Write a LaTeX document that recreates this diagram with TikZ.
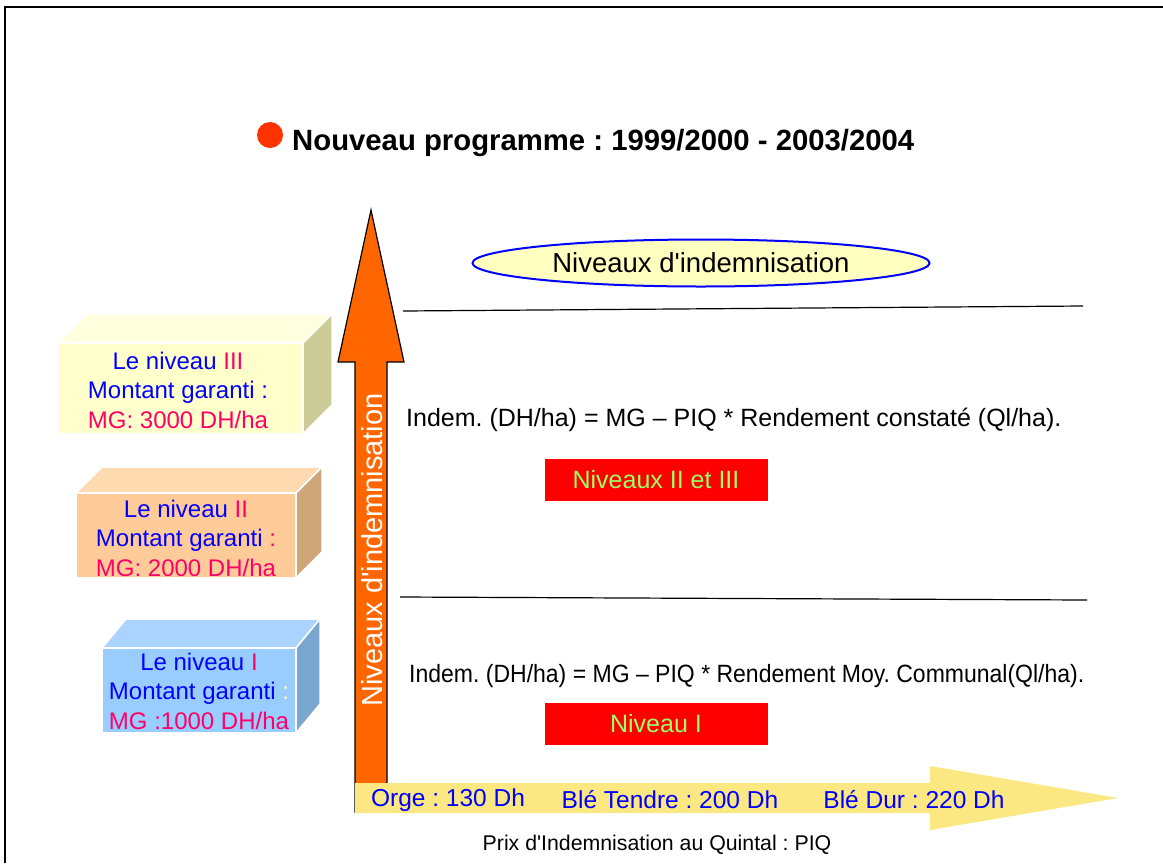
\documentclass[tikz,border=0pt]{standalone}
\usepackage{fontspec}
\setmainfont{Liberation Sans}
\newfontfamily\etroit{Liberation Sans}[FakeStretch=0.92]
\usepackage{xcolor}
\usetikzlibrary{shapes.geometric}
\definecolor{bleu}{HTML}{0000FF}
\definecolor{rose}{HTML}{FF0066}
\definecolor{vert}{HTML}{99FF66}
\definecolor{orangef}{HTML}{FF6600}
\definecolor{jaune}{HTML}{FBE883}
\definecolor{creme}{HTML}{FFFFC0}
\tikzset{niv/.style={align=center,text=bleu,inner sep=0pt,font=\fontsize{24}{29.5}\selectfont},
  rouge/.style={fill=red,minimum width=223pt,minimum height=42pt,inner sep=0pt,text=vert,font=\fontsize{25}{27}\selectfont},
  formule/.style={anchor=west,inner sep=0pt,font=\fontsize{25}{27}\selectfont},
  prix/.style={text=bleu,inner sep=0pt,font=\fontsize{24.5}{27}\selectfont}}
% boite 3D : x1 y1 x2 y2 dx dy face dessus cote
\newcommand{\caisse}[9]{%
  \filldraw[fill=#8,draw=white,line width=1.5pt] (#1,#2) -- (#1+#5,#2-#6) -- (#3+#5,#2-#6) -- (#3,#2) -- cycle;
  \filldraw[fill=#9,draw=white,line width=1.5pt] (#3,#2) -- (#3+#5,#2-#6) -- (#3+#5,#4-#6) -- (#3,#4) -- cycle;
  \filldraw[fill=#7,draw=white,line width=1.5pt] (#1,#2) rectangle (#3,#4);}
\frenchspacing

\begin{document}
\begin{tikzpicture}[x=1pt,y=-1pt]
    \useasboundingbox (0,0) rectangle (1163,863);
    \draw[line width=2pt] (5,863) -- (5,7) -- (1163,7);

    % titre
    \fill[fill={rgb,255:red,255;green,51;blue,0}] (270,135) circle (13);
    \node[anchor=base west,inner sep=0pt,font=\bfseries\fontsize{29.3}{31}\selectfont] (titre) at (292,150) {Nouveau programme : 1999/2000 - 2003/2004};

    % axes
    \filldraw[fill=orangef,draw=black,line width=1.2pt] (355,812) -- (355,362) -- (338,362) -- (371,210) -- (404,362) -- (387,362) -- (387,812) -- cycle;
    \node[rotate=90,text=white,inner sep=0pt,font=\fontsize{29}{31}\selectfont] (axe) at (372,550) {Niveaux d\textquotesingle indemnisation};
    \fill[jaune] (355,783) -- (930,783) -- (930,766) -- (1118,798) -- (930,830) -- (930,813) -- (355,813) -- cycle;
    \node[prix] (orge) at (448,800) {Orge : 130 Dh};
    \node[prix] (bt) at (670,800) {Blé Tendre : 200 Dh};
    \node[prix] (bd) at (914,800) {Blé Dur : 220 Dh};
    \node[inner sep=0pt,font=\fontsize{21.3}{23}\selectfont] (piq) at (657,845) {Prix d\textquotesingle Indemnisation au Quintal : PIQ};

    % niveaux
    \node[ellipse,draw=bleu,line width=2pt,fill=creme,minimum width=457pt,minimum height=47pt,font=\fontsize{27.5}{29}\selectfont] (niveaux) at (701,263) {Niveaux d\textquotesingle indemnisation};
    \draw[line width=1.2pt] (403,311) -- (1083,306);
    \draw[line width=1.2pt] (400,597) -- (1087,600);
    \node[formule] (f23) at (406,420) {Indem. (DH/ha) = MG – PIQ * Rendement constaté (Ql/ha).};
    \node[rouge] (r23) at (656,480) {Niveaux II et III};
    \node[formule,font=\etroit\fontsize{25}{27}\selectfont] (f1) at (409,676) {Indem. (DH/ha) = MG – PIQ * Rendement Moy. Communal(Ql/ha).};
    \node[rouge] (r1) at (656,724) {Niveau I};

    % boites
    \caisse{58}{343}{303}{434}{29}{29}{{rgb,255:red,255;green,255;blue,204}}{{rgb,255:red,255;green,255;blue,221}}{{rgb,255:red,204;green,204;blue,153}}
    \caisse{76}{493}{296}{578}{26}{26}{{rgb,255:red,255;green,204;blue,153}}{{rgb,255:red,255;green,217;blue,176}}{{rgb,255:red,207;green,165;blue,122}}
    \caisse{102}{648}{296}{733}{24}{29}{{rgb,255:red,153;green,204;blue,255}}{{rgb,255:red,170;green,212;blue,255}}{{rgb,255:red,122;green,167;blue,207}}
    \node[niv] (n3) at (178,390) {Le niveau \textcolor{rose}{III}\\Montant garanti :\\\textcolor{rose}{MG: 3000 DH/ha}};
    \node[niv] (n2) at (186,538) {Le niveau \textcolor{rose}{II}\\Montant garanti \textcolor{rose}{:}\\\textcolor{rose}{MG: 2000 DH/ha}};
    \node[niv] (n1) at (199,691) {Le niveau \textcolor{rose}{I}\\Montant garanti \textcolor{creme}{:}\\\textcolor{rose}{MG :1000 DH/ha}};
\end{tikzpicture}
\end{document}
